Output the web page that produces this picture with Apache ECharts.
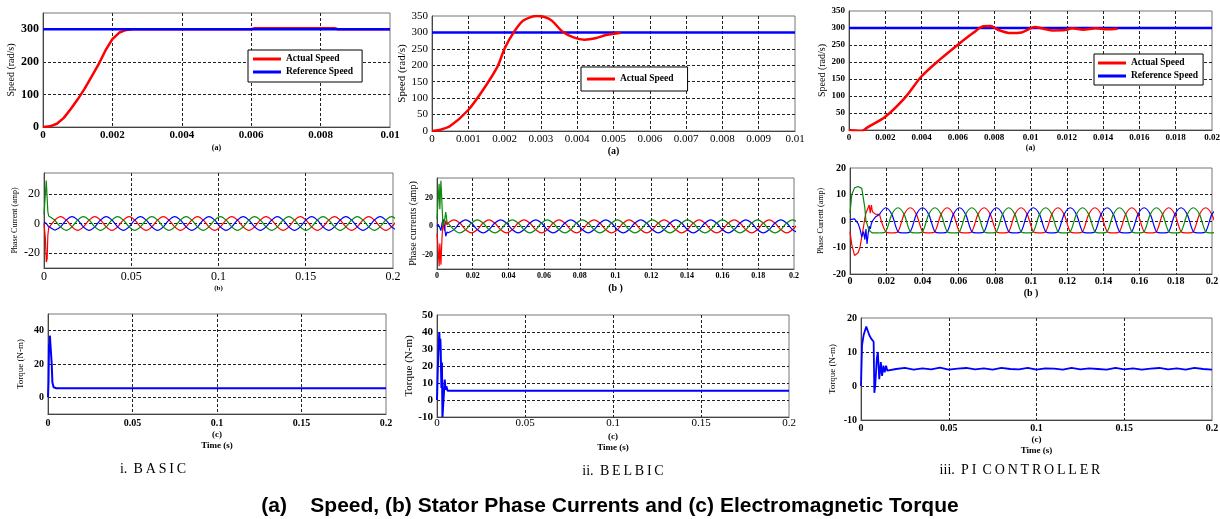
<!DOCTYPE html>
<html>
<head>
<meta charset="utf-8">
<script src="https://cdn.jsdelivr.net/npm/echarts@6/dist/echarts.min.js"></script>
<style>
html, body { margin: 0; padding: 0; background: #fff; }
#chart { width: 1220px; height: 519px; }
</style>
</head>
<body>
<div id="chart"></div>
<script>
// ---------- (a) speed ----------
const basicSpeedT = [0, 0.0002, 0.0004, 0.0006, 0.0008, 0.001, 0.0012, 0.0014, 0.0016, 0.0018, 0.002, 0.0022, 0.0024, 0.0026, 0.006, 0.0061, 0.0084, 0.0085, 0.01];
const basicSpeed = [0, 2, 10, 28, 55, 85, 118, 155, 192, 235, 270, 290, 298, 300, 300, 303, 303, 300, 300];
const belbicSpeedT = [0, 0.0002, 0.0005, 0.001, 0.0014, 0.0018, 0.002, 0.00225, 0.0025, 0.0027, 0.0029, 0.0031, 0.0033, 0.0036, 0.0039, 0.0042, 0.0045, 0.0048, 0.0052];
const belbicSpeed = [0, 3, 15, 64, 124, 195, 251, 300, 335, 346, 350, 347, 336, 302, 285, 278, 282, 292, 299];
const piSpeedT = [0, 0.0007, 0.001, 0.002, 0.0031, 0.004, 0.005, 0.006, 0.00685, 0.0074, 0.0078, 0.0082, 0.0089, 0.0095, 0.01025, 0.0106, 0.0112, 0.0119, 0.0123, 0.0129, 0.0136, 0.0142, 0.0148];
const piSpeed = [0, -3, 7, 39, 96, 158, 207, 251, 286, 305, 306, 295, 285, 287, 303, 299, 293, 294, 299, 295, 299, 296, 298];
const refSpeedT = [0, 0.01];
const piRefSpeedT = [0, 0.02];
const refSpeed = [300, 300];

// ---------- (b) phase currents ----------
// start-up part of each phase
const basicStartT = [0, 0.0008, 0.0013, 0.0018, 0.0022, 0.0027, 0.004, 0.0062];
const basicStartIa = [0, -10, -26, -24, -8, -3, -1, 2.3];
const basicStartIb = [1, 0.5, 0, -1, -1.5, -2, -3, -4.6];
const basicStartIc = [6, 20, 29, 28, 8, 5, 4, 2.3];

const belbicStartT = [0, 0.0006, 0.0012, 0.0016, 0.0022, 0.0028, 0.0034, 0.0042, 0.0049, 0.0056, 0.0062];
const belbicStartIa = [-5, -15, -28, -12, -27, -8, 3, -3, 4, 1, 2.3];
const belbicStartIb = [0, 1.5, 1, -1, -3, 2, 5, 0, -7, -4, -4.6];
const belbicStartIc = [5, 18, 30, 12, 32, 15, 0, 4, 10, 3, 2.3];

const piStartT = [0, 0.001, 0.0025, 0.0036, 0.0045, 0.0055, 0.0065, 0.0075, 0.0082, 0.0088, 0.0094, 0.01, 0.0106, 0.0112, 0.0118, 0.0124, 0.013, 0.014, 0.0163];
const piStartIa = [-4, -9, -13, -13.5, -12, -10, -6, -2, 1, 3, 4, 5, 6, 3, 6, 3.5, 3, 2.6, 2.5];
const piStartIb = [0.5, 0.5, 0.8, 0.5, -1, -3, -6, -4, -7, -3, -8.7, -5, -2, -3, -1, 0, 0.5, 1.5, 2.5];
const piStartIc = [3, 10, 12.5, 13.2, 13, 12.5, 12.3, 11.8, 5, 0, -1, -2.5, -3, -4, -4.3, -4.5, -4.5, -4.5, -4.5];

// steady state (BASIC and BELBIC), read every sixth of a period
const steadyT = [0.0062, 0.0095, 0.01277, 0.01604, 0.01931, 0.02258, 0.02585, 0.02912, 0.03239, 0.03566, 0.03893,
  0.0422, 0.04547, 0.04874, 0.05201, 0.05528, 0.05855, 0.06182, 0.06509, 0.06836, 0.07163,
  0.0749, 0.07817, 0.08144, 0.08471, 0.08798, 0.09125, 0.09452, 0.09779, 0.10106, 0.10433,
  0.1076, 0.11087, 0.11414, 0.11741, 0.12068, 0.12395, 0.12722, 0.13049, 0.13376, 0.13703,
  0.1403, 0.14357, 0.14684, 0.15011, 0.15338, 0.15665, 0.15992, 0.16319, 0.16646, 0.16973,
  0.173, 0.17627, 0.17954, 0.18281, 0.18608, 0.18935, 0.19262, 0.19589, 0.19916, 0.20243];
const steadyIa = [2.3,
  4.6, 2.3, -2.3, -4.6, -2.3, 2.3, 4.6, 2.3, -2.3, -4.6, -2.3, 2.3, 4.6, 2.3, -2.3, -4.6, -2.3, 2.3,
  4.6, 2.3, -2.3, -4.6, -2.3, 2.3, 4.6, 2.3, -2.3, -4.6, -2.3, 2.3, 4.6, 2.3, -2.3, -4.6, -2.3, 2.3,
  4.6, 2.3, -2.3, -4.6, -2.3, 2.3, 4.6, 2.3, -2.3, -4.6, -2.3, 2.3, 4.6, 2.3, -2.3, -4.6, -2.3, 2.3,
  4.6, 2.3, -2.3, -4.6, -2.3, 2.3];
const steadyIb = [-4.6,
  -2.3, 2.3, 4.6, 2.3, -2.3, -4.6, -2.3, 2.3, 4.6, 2.3, -2.3, -4.6, -2.3, 2.3, 4.6, 2.3, -2.3, -4.6,
  -2.3, 2.3, 4.6, 2.3, -2.3, -4.6, -2.3, 2.3, 4.6, 2.3, -2.3, -4.6, -2.3, 2.3, 4.6, 2.3, -2.3, -4.6,
  -2.3, 2.3, 4.6, 2.3, -2.3, -4.6, -2.3, 2.3, 4.6, 2.3, -2.3, -4.6, -2.3, 2.3, 4.6, 2.3, -2.3, -4.6,
  -2.3, 2.3, 4.6, 2.3, -2.3, -4.6];
const steadyIc = [2.3,
  -2.3, -4.6, -2.3, 2.3, 4.6, 2.3, -2.3, -4.6, -2.3, 2.3, 4.6, 2.3, -2.3, -4.6, -2.3, 2.3, 4.6, 2.3,
  -2.3, -4.6, -2.3, 2.3, 4.6, 2.3, -2.3, -4.6, -2.3, 2.3, 4.6, 2.3, -2.3, -4.6, -2.3, 2.3, 4.6, 2.3,
  -2.3, -4.6, -2.3, 2.3, 4.6, 2.3, -2.3, -4.6, -2.3, 2.3, 4.6, 2.3, -2.3, -4.6, -2.3, 2.3, 4.6, 2.3,
  -2.3, -4.6, -2.3, 2.3, 4.6, 2.3];

// PI controller steady state (flat-bottomed waves)
const piSteadyT = [0.0163, 0.0197, 0.0231, 0.0265, 0.0299, 0.0333, 0.0367, 0.0401, 0.0435, 0.0469, 0.0503, 0.0537, 0.0571, 0.0605, 0.0639, 0.0673, 0.0707, 0.0741, 0.0775, 0.0809, 0.0843, 0.0877, 0.0911, 0.0945, 0.0979, 0.1013, 0.1047, 0.1081, 0.1115, 0.1149, 0.1183, 0.1217, 0.1251, 0.1285, 0.1319, 0.1353, 0.1387, 0.1421, 0.1455, 0.1489, 0.1523, 0.1557, 0.1591, 0.1625, 0.1659, 0.1693, 0.1727, 0.1761, 0.1795, 0.1829, 0.1863, 0.1897, 0.1931, 0.1965, 0.1999, 0.2033];
const piSteadyIa = [
  2.5, -4, -4.5, -4, 2.5, 5, 2.5, -4, -4.5, -4, 2.5, 5, 2.5, -4, -4.5, -4, 2.5, 5,
  2.5, -4, -4.5, -4, 2.5, 5, 2.5, -4, -4.5, -4, 2.5, 5, 2.5, -4, -4.5, -4, 2.5, 5,
  2.5, -4, -4.5, -4, 2.5, 5, 2.5, -4, -4.5, -4, 2.5, 5, 2.5, -4, -4.5, -4, 2.5, 5,
  2.5, -4];
const piSteadyIb = [
  2.5, 5, 2.5, -4, -4.5, -4, 2.5, 5, 2.5, -4, -4.5, -4, 2.5, 5, 2.5, -4, -4.5, -4,
  2.5, 5, 2.5, -4, -4.5, -4, 2.5, 5, 2.5, -4, -4.5, -4, 2.5, 5, 2.5, -4, -4.5, -4,
  2.5, 5, 2.5, -4, -4.5, -4, 2.5, 5, 2.5, -4, -4.5, -4, 2.5, 5, 2.5, -4, -4.5, -4,
  2.5, 5];
const piSteadyIc = [
  -4.5, -4, 2.5, 5, 2.5, -4, -4.5, -4, 2.5, 5, 2.5, -4, -4.5, -4, 2.5, 5, 2.5, -4,
  -4.5, -4, 2.5, 5, 2.5, -4, -4.5, -4, 2.5, 5, 2.5, -4, -4.5, -4, 2.5, 5, 2.5, -4,
  -4.5, -4, 2.5, 5, 2.5, -4, -4.5, -4, 2.5, 5, 2.5, -4, -4.5, -4, 2.5, 5, 2.5, -4,
  -4.5, -4];

// ---------- (c) torque ----------
const basicTorqueT = [0, 0.0003, 0.0006, 0.0009, 0.0011, 0.0018, 0.0022, 0.0026, 0.0033, 0.005, 0.2];
const basicTorque = [0, 9, 32, 27, 37, 37, 20, 9, 6, 5.5, 5.5];
const belbicTorqueT = [0, 0.0004, 0.0009, 0.0013, 0.0017, 0.0019, 0.0021, 0.0025, 0.0028, 0.0031, 0.0034, 0.0038, 0.0044, 0.0048, 0.0053, 0.006, 0.2];
const belbicTorque = [0, 17, 30, 40, 30, 36, 30, 7, 22, -10, -10, 2, 12, 6, 8, 5.5, 5.5];
const piTorqueT = [0, 0.0006, 0.0015, 0.003, 0.0038, 0.0047, 0.0057, 0.0068, 0.0072, 0.0076, 0.0081, 0.009, 0.0096, 0.0104, 0.0113, 0.012, 0.0128, 0.0135, 0.0143, 0.015, 0.016,
  0.02, 0.025, 0.03, 0.035, 0.04, 0.045, 0.05, 0.055, 0.06, 0.065, 0.07, 0.075, 0.08, 0.085, 0.09, 0.095, 0.1, 0.105, 0.11, 0.115, 0.12, 0.125, 0.13, 0.135, 0.14, 0.145, 0.15, 0.155, 0.16, 0.165, 0.17, 0.175, 0.18, 0.185, 0.19, 0.195, 0.2];
const piTorque = [0, 12, 15, 17.5, 17, 15, 14, 13.5, 13, -2, 0, 8, 10, 2, 7, 3, 6, 4, 6, 4.5, 5,
  5, 5.3, 4.8, 5.2, 4.9, 5.4, 4.8, 5.1, 5.3, 4.9, 5.2, 4.8, 5.3, 5.0, 4.9, 5.3, 4.8, 5.2, 5.1, 4.8, 5.3, 4.9, 5.2, 5.0, 4.8, 5.3, 4.9, 5.2, 4.8, 5.1, 5.3, 4.9, 5.2, 4.8, 5.3, 5.0, 4.8];

// ---------- tick labels ----------
const speedXTicksA = [0, 0.002, 0.004, 0.006, 0.008, 0.01];
const speedXTicksB = [0, 0.001, 0.002, 0.003, 0.004, 0.005, 0.006, 0.007, 0.008, 0.009, 0.01];
const speedXTicksC = [0, 0.002, 0.004, 0.006, 0.008, 0.01, 0.012, 0.014, 0.016, 0.018, 0.02];
const speedYTicksA = [0, 100, 200, 300];
const speedYTicksB = [0, 50, 100, 150, 200, 250, 300, 350];
const timeTicksCoarse = [0, 0.05, 0.1, 0.15, 0.2];
const timeTicksFine = [0, 0.02, 0.04, 0.06, 0.08, 0.1, 0.12, 0.14, 0.16, 0.18, 0.2];
const currentYTicksA = [-20, 0, 20];
const currentYTicksC = [-20, -10, 0, 10, 20];
const torqueYTicksA = [0, 20, 40];
const torqueYTicksB = [-10, 0, 10, 20, 30, 40, 50];
const torqueYTicksC = [-10, 0, 10, 20];

const SERIF = "'Liberation Serif', 'Times New Roman', serif";
const RED = '#ff0000', BLUE = '#0000ff', GREEN = '#0a8a0a';
const TS = '\u2009'; // thin space, the controller names are letter-spaced

const panels = [
  { box: [43, 13, 347, 114], x: { max: 0.01, ticks: speedXTicksA, font: 11, bold: true, margin: 3, name: '(a)', nameFont: 8, nameGap: 16 },
    y: { min: 0, max: 350, ticks: speedYTicksA, font: 12, bold: true, name: 'Speed (rad/s)', nameFont: 10, nameGap: 27 } },
  { box: [432, 16, 363, 115], x: { max: 0.01, ticks: speedXTicksB, font: 11, bold: false, margin: 3, name: '(a)', nameFont: 10, nameGap: 14 },
    y: { min: 0, max: 350, ticks: speedYTicksB, font: 11, bold: false, name: 'Speed (rad/s)', nameFont: 11, nameGap: 23 } },
  { box: [849, 11, 363, 119], x: { max: 0.02, ticks: speedXTicksC, font: 9, bold: true, margin: 3, name: '(a)', nameFont: 8, nameGap: 12 },
    y: { min: 0, max: 350, ticks: speedYTicksB, font: 9, bold: true, name: 'Speed (rad/s)', nameFont: 10, nameGap: 21 } },
  { box: [44, 173, 349, 95], x: { max: 0.2, ticks: timeTicksCoarse, font: 12, bold: false, margin: 3, name: '(b)', nameFont: 7, nameGap: 14 },
    y: { min: -30, max: 34, ticks: currentYTicksA, font: 12, bold: false, name: 'Phase Current (amp)', nameFont: 8, nameGap: 25 } },
  { box: [437, 178, 357, 91], x: { max: 0.2, ticks: timeTicksFine, font: 8, bold: true, margin: 3, name: '(b )', nameFont: 10, nameGap: 13 },
    y: { min: -30, max: 34, ticks: currentYTicksA, font: 8, bold: true, name: 'Phase currents (amp)', nameFont: 10, nameGap: 17 } },
  { box: [850, 168, 362, 106], x: { max: 0.2, ticks: timeTicksFine, font: 10, bold: true, margin: 2, name: '(b )', nameFont: 10, nameGap: 13 },
    y: { min: -20, max: 20, ticks: currentYTicksC, font: 10, bold: true, name: 'Phase Current (amp)', nameFont: 8, nameGap: 25 } },
  { box: [48, 314, 338, 100], x: { max: 0.2, ticks: timeTicksCoarse, font: 10, bold: true, margin: 4, name: '(c)\nTime (s)', nameFont: 9, nameGap: 14 },
    y: { min: -10, max: 50, ticks: torqueYTicksA, font: 10, bold: true, name: 'Torque (N-m)', nameFont: 9, nameGap: 23 } },
  { box: [437, 315, 352, 102], x: { max: 0.2, ticks: timeTicksCoarse, font: 11, bold: false, margin: 1, name: '(c)\nTime (s)', nameFont: 9, nameGap: 14 },
    y: { min: -10, max: 50, ticks: torqueYTicksB, font: 11, bold: true, name: 'Torque (N-m)', nameFont: 11, nameGap: 22 } },
  { box: [861, 318, 351, 102], x: { max: 0.2, ticks: timeTicksCoarse, font: 10, bold: true, margin: 3, name: '(c)\nTime (s)', nameFont: 9, nameGap: 14 },
    y: { min: -10, max: 20, ticks: torqueYTicksC, font: 10, bold: true, name: 'Torque (N-m)', nameFont: 9, nameGap: 24 } }
];

function pairs(t, v) {
  return t.map((x, i) => [x, v[i]]);
}

function fmt(v) {
  return String(Math.round(v * 1e6) / 1e6);
}

function spaced(word) {
  return word.split('').join(TS);
}

const gridLine = { show: true, lineStyle: { color: '#222', type: [3, 2], width: 1 } };

const grids = panels.map(p => ({
  left: p.box[0], top: p.box[1], width: p.box[2], height: p.box[3],
  show: true, borderColor: '#777', borderWidth: 1, backgroundColor: '#fff',
  containLabel: false, outerBoundsMode: 'none'
}));

const xAxes = panels.map((p, i) => ({
  gridIndex: i, type: 'value', min: 0, max: p.x.max,
  axisLine: { show: true, onZero: false, lineStyle: { color: '#444', width: 1 } },
  axisTick: { show: false, customValues: p.x.ticks.slice(1, -1) },
  axisLabel: {
    customValues: p.x.ticks, interval: 0, hideOverlap: false, formatter: fmt,
    fontSize: p.x.font, fontWeight: p.x.bold ? 'bold' : 'normal', fontFamily: SERIF, color: '#000', margin: p.x.margin
  },
  splitLine: gridLine,
  name: p.x.name, nameLocation: 'middle', nameGap: p.x.nameGap,
  nameTextStyle: { fontSize: p.x.nameFont, fontWeight: 'bold', fontFamily: SERIF, color: '#000', lineHeight: p.x.nameFont + 2, verticalAlign: 'top' }
}));

const yAxes = panels.map((p, i) => ({
  gridIndex: i, type: 'value', min: p.y.min, max: p.y.max,
  axisLine: { show: true, onZero: false, lineStyle: { color: '#444', width: 1 } },
  axisTick: { show: false, customValues: p.y.ticks.filter(v => v !== p.y.min && v !== p.y.max) },
  axisLabel: {
    customValues: p.y.ticks, interval: 0, hideOverlap: false, formatter: fmt,
    fontSize: p.y.font, fontWeight: p.y.bold ? 'bold' : 'normal', fontFamily: SERIF, color: '#000', margin: 4
  },
  splitLine: gridLine,
  name: p.y.name, nameLocation: 'middle', nameGap: p.y.nameGap, nameRotate: 90,
  nameTextStyle: { fontSize: p.y.nameFont, fontFamily: SERIF, color: '#000' }
}));

function line(idx, name, t, v, color, width, smooth) {
  return {
    type: 'line', name: name, xAxisIndex: idx, yAxisIndex: idx,
    data: pairs(t, v), showSymbol: false, symbol: 'none', smooth: smooth || false,
    lineStyle: { color: color, width: width }, itemStyle: { color: color },
    animation: false, silent: true
  };
}

const series = [
  // speed
  line(0, 'Actual Speed', basicSpeedT, basicSpeed, RED, 2.5),
  line(0, 'Reference Speed', refSpeedT, refSpeed, BLUE, 2.5),
  line(1, 'Reference Speed', refSpeedT, refSpeed, BLUE, 2.5),
  line(1, 'Actual Speed', belbicSpeedT, belbicSpeed, RED, 2.5, 0.3),
  line(2, 'Reference Speed', piRefSpeedT, refSpeed, BLUE, 2.5),
  line(2, 'Actual Speed', piSpeedT, piSpeed, RED, 2.5, 0.3),
  // currents
  line(3, 'ia0', basicStartT, basicStartIa, RED, 1.2),
  line(3, 'ib0', basicStartT, basicStartIb, BLUE, 1.2),
  line(3, 'ic0', basicStartT, basicStartIc, GREEN, 1.2),
  line(3, 'ia', steadyT, steadyIa, RED, 1.2, 0.35),
  line(3, 'ib', steadyT, steadyIb, BLUE, 1.2, 0.35),
  line(3, 'ic', steadyT, steadyIc, GREEN, 1.2, 0.35),
  line(4, 'ia0', belbicStartT, belbicStartIa, RED, 1.2),
  line(4, 'ib0', belbicStartT, belbicStartIb, BLUE, 1.2),
  line(4, 'ic0', belbicStartT, belbicStartIc, GREEN, 1.2),
  line(4, 'ia', steadyT, steadyIa, RED, 1.2, 0.35),
  line(4, 'ib', steadyT, steadyIb, BLUE, 1.2, 0.35),
  line(4, 'ic', steadyT, steadyIc, GREEN, 1.2, 0.35),
  line(5, 'ia0', piStartT, piStartIa, RED, 1.2),
  line(5, 'ib0', piStartT, piStartIb, BLUE, 1.2),
  line(5, 'ic0', piStartT, piStartIc, GREEN, 1.2),
  line(5, 'ia', piSteadyT, piSteadyIa, RED, 1.2, 0.3),
  line(5, 'ib', piSteadyT, piSteadyIb, BLUE, 1.2, 0.3),
  line(5, 'ic', piSteadyT, piSteadyIc, GREEN, 1.2, 0.3),
  // torque
  line(6, 'Te', basicTorqueT, basicTorque, BLUE, 2),
  line(7, 'Te', belbicTorqueT, belbicTorque, BLUE, 2),
  line(8, 'Te', piTorqueT, piTorque, BLUE, 1.8)
];

const legendBase = {
  orient: 'vertical', icon: 'rect', itemWidth: 28, itemHeight: 3, itemGap: 3,
  borderColor: '#000', borderWidth: 1, backgroundColor: '#fff', selectedMode: false,
  textStyle: { fontSize: 9.5, fontWeight: 'bold', fontFamily: SERIF, color: '#000' }
};

const captionStyle = { fontSize: 14, fontFamily: SERIF, fill: '#000', textAlign: 'center' };

const chart = echarts.init(document.getElementById('chart'), null, { renderer: 'canvas' });
chart.setOption({
  animation: false,
  backgroundColor: '#fff',
  title: {
    text: '(a)    Speed, (b) Stator Phase Currents and (c) Electromagnetic Torque',
    left: 'center', top: 491,
    textStyle: { fontSize: 21, fontWeight: 'bold', color: '#000', fontFamily: "'Liberation Sans Narrow', 'Liberation Sans', Arial, sans-serif" }
  },
  grid: grids,
  xAxis: xAxes,
  yAxis: yAxes,
  legend: [
    Object.assign({}, legendBase, { data: ['Actual Speed', 'Reference Speed'], left: 248, top: 50, padding: [4, 9, 5, 5] }),
    Object.assign({}, legendBase, { data: ['Actual Speed'], left: 581, top: 67, padding: [7, 14, 7, 6] }),
    Object.assign({}, legendBase, { data: ['Actual Speed', 'Reference Speed'], left: 1094, top: 54, padding: [4, 5, 4, 4] })
  ],
  graphic: [
    { type: 'text', x: 153, y: 462, style: Object.assign({ text: 'i.' + TS + ' ' + spaced('BASIC') }, captionStyle) },
    { type: 'text', x: 623, y: 464, style: Object.assign({ text: 'ii.' + TS + ' ' + spaced('BELBIC') }, captionStyle) },
    { type: 'text', x: 1020, y: 463, style: Object.assign({ text: 'iii.' + TS + ' ' + spaced('PI') + TS + ' ' + spaced('CONTROLLER') }, captionStyle) }
  ],
  series: series
});
</script>
</body>
</html>
